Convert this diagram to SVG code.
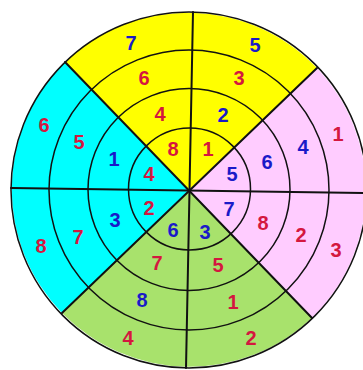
<svg xmlns="http://www.w3.org/2000/svg" width="363" height="370" viewBox="0 0 363 370">
<style>
text{font-family:"Liberation Sans",Arial,sans-serif;font-weight:bold;font-size:20px;text-anchor:middle}
.r{fill:#d4173f}
.b{fill:#1a1ac8}
.ring{fill:none;stroke:#111;stroke-width:1.5}
.ln{stroke:#111;stroke-width:2;stroke-linecap:round}
</style>
<rect width="363" height="370" fill="#fff"/>
<g id="yellow">
<path d="M189,190 L65,62 A178,178 0 0 1 317,68 Z" fill="#ffff00"/>
<text class="b" x="131" y="50">7</text>
<text class="b" x="255" y="52">5</text>
<text class="r" x="144" y="85">6</text>
<text class="r" x="239" y="85">3</text>
<text class="r" x="160" y="121">4</text>
<text class="b" x="223" y="122">2</text>
<text class="r" x="173" y="156">8</text>
<text class="r" x="208" y="156">1</text>
</g>
<g id="pink">
<path d="M189,190 L317,68 A178,178 0 0 1 312,318 Z" fill="#ffccff"/>
<text class="r" x="338" y="141">1</text>
<text class="b" x="303" y="154">4</text>
<text class="b" x="267" y="169">6</text>
<text class="b" x="232" y="181">5</text>
<text class="b" x="229" y="216">7</text>
<text class="r" x="263" y="230">8</text>
<text class="r" x="301" y="242">2</text>
<text class="r" x="336" y="257">3</text>
</g>
<g id="green">
<path d="M189,190 L312,318 A178,178 0 0 1 62,313 Z" fill="#a8e26c"/>
<text class="b" x="173" y="237">6</text>
<text class="b" x="205" y="239">3</text>
<text class="r" x="157" y="270">7</text>
<text class="r" x="218" y="272">5</text>
<text class="b" x="142" y="307">8</text>
<text class="r" x="233" y="309">1</text>
<text class="r" x="128" y="345">4</text>
<text class="r" x="251" y="345">2</text>
</g>
<g id="cyan">
<path d="M189,190 L62,313 A178,178 0 0 1 65,62 Z" fill="#00ffff"/>
<text class="r" x="44" y="132">6</text>
<text class="r" x="79" y="149">5</text>
<text class="b" x="114" y="166">1</text>
<text class="r" x="149" y="181">4</text>
<text class="r" x="149" y="215">2</text>
<text class="b" x="115" y="227">3</text>
<text class="r" x="78" y="244">7</text>
<text class="r" x="41" y="253">8</text>
</g>
<g id="connectors">
<circle class="ring" cx="189.5" cy="189" r="61"/>
<circle class="ring" cx="189" cy="189.5" r="101"/>
<circle class="ring" cx="189" cy="190" r="140"/>
<circle class="ring" cx="189" cy="190" r="178"/>
<line class="ln" x1="193" y1="12" x2="186" y2="368"/>
<line class="ln" x1="11" y1="188" x2="367" y2="193"/>
<line class="ln" x1="65" y1="62" x2="312" y2="318"/>
<line class="ln" x1="317" y1="68" x2="62" y2="313"/>
</g>
</svg>
